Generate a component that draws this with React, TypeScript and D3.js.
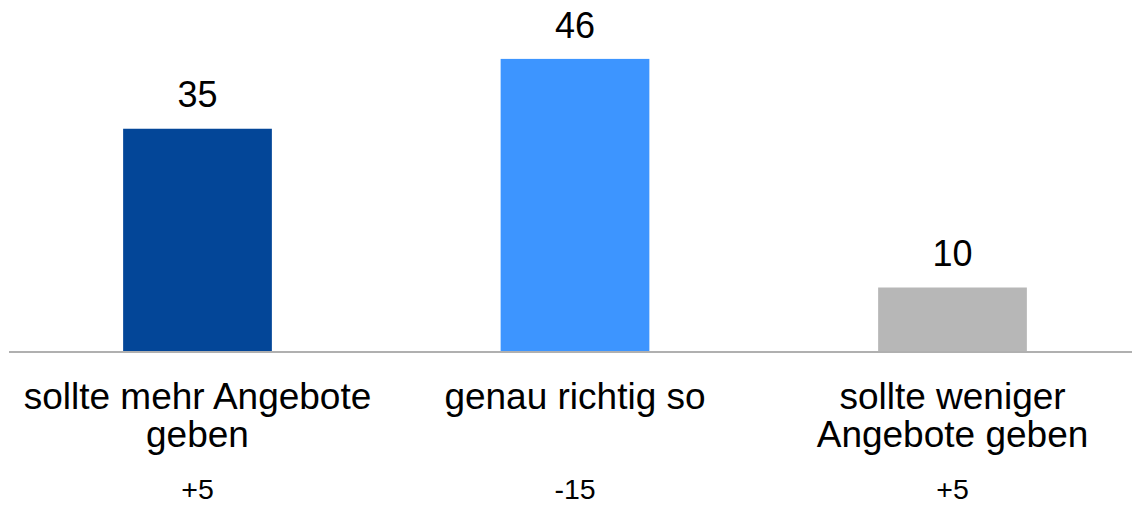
import React from "react";
import * as d3 from "d3";

const categories: string[][] = [
  ["sollte mehr Angebote", "geben"],
  ["genau richtig so"],
  ["sollte weniger", "Angebote geben"],
];
const values: number[] = [35, 46, 10];
const changes: string[] = ["+5", "-15", "+5"];
const colors: string[] = ["#034698", "#3D95FF", "#B7B7B7"];

const W = 1132;
const H = 505;
const baseY = 351;

export default function App() {
  const ids = categories.map((_, i) => String(i));
  const x = d3
    .scaleBand<string>()
    .domain(ids)
    .range([8.75, 1141.25])
    .paddingInner(0.606)
    .paddingOuter(0.303);
  const y = d3.scaleLinear().domain([0, 50]).range([baseY, baseY - 6.35 * 50]);
  const font = "'Liberation Sans', Arial, Helvetica, sans-serif";

  return (
    <svg
      width={W}
      height={H}
      style={{ position: "absolute", left: 0, top: 0, background: "#fff" }}
      fontFamily={font}
    >
      {values.map((v, i) => {
        const bx = x(String(i))!;
        const bw = x.bandwidth();
        const cx = bx + bw / 2;
        return (
          <g key={i}>
            <rect x={bx} y={y(v)} width={bw} height={baseY - y(v)} fill={colors[i]} />
            <text x={cx} y={y(v) - 21.3} textAnchor="middle" fontSize={36} fill="#000">
              {v}
            </text>
            {categories[i].map((line, j) => (
              <text
                key={j}
                x={cx}
                y={408.5 + j * 38.3}
                textAnchor="middle"
                fontSize={37}
                fill="#000"
              >
                {line}
              </text>
            ))}
            <text x={cx} y={498.8} textAnchor="middle" fontSize={28.5} fill="#000">
              {changes[i]}
            </text>
          </g>
        );
      })}
      <line x1={9} x2={W} y1={baseY + 1} y2={baseY + 1} stroke="#B0B0B0" strokeWidth={2} />
    </svg>
  );
}
